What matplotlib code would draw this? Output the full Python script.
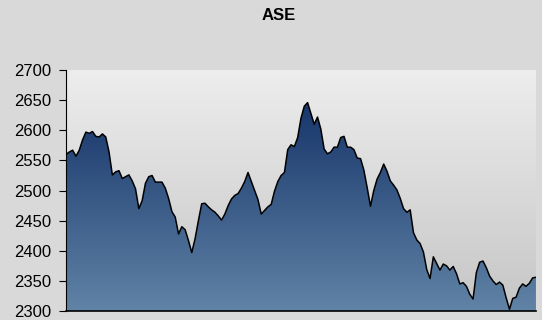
import numpy as np
import matplotlib
matplotlib.use('Agg')
import matplotlib.pyplot as plt
from matplotlib.colors import LinearSegmentedColormap

title = 'ASE'
y_ticks = [2300, 2350, 2400, 2450, 2500, 2550, 2600, 2650, 2700]

# index values, one per trading day
ase = [2560, 2564, 2567, 2557, 2567, 2584, 2597, 2595, 2598, 2590,
       2589, 2594, 2589, 2564, 2526, 2531, 2533, 2520, 2523, 2526,
       2516, 2503, 2470, 2483, 2512, 2523, 2525, 2514, 2514, 2514,
       2504, 2487, 2465, 2456, 2428, 2440, 2435, 2417, 2397, 2420,
       2450, 2478, 2479, 2473, 2468, 2464, 2458, 2451, 2461, 2475,
       2486, 2492, 2495, 2504, 2515, 2530, 2515, 2500, 2485, 2461,
       2467, 2473, 2477, 2499, 2515, 2525, 2530, 2568, 2576, 2573,
       2588, 2620, 2640, 2646, 2628, 2610, 2622, 2602, 2569, 2561,
       2564, 2572, 2572, 2588, 2590, 2572, 2572, 2568, 2554, 2553,
       2534, 2505, 2474, 2500, 2519, 2530, 2544, 2532, 2516, 2509,
       2501, 2487, 2470, 2464, 2468, 2430, 2418, 2412, 2398, 2369,
       2354, 2390, 2379, 2368, 2378, 2375, 2368, 2374, 2362, 2345,
       2347, 2341, 2328, 2320, 2364, 2381, 2383, 2372, 2358, 2350,
       2344, 2348, 2343, 2322, 2303, 2321, 2323, 2338, 2345, 2341,
       2346, 2355, 2356]

days = np.arange(len(ase))
ymin, ymax = y_ticks[0], y_ticks[-1]

fig = plt.figure(figsize=(5.42, 3.2), dpi=100, facecolor='#d9d9d9')
ax = fig.add_axes([0.1218, 0.028, 0.867, 0.753])
ax.set_xlim(days[0], days[-1])
ax.set_ylim(ymin, ymax)

# plot-area background gradient
bg = LinearSegmentedColormap.from_list('bg', ['#c6c6c6', '#ededed'])
grad = np.linspace(0, 1, 256).reshape(-1, 1)
ax.imshow(grad, cmap=bg, aspect='auto', origin='lower',
          extent=[days[0], days[-1], ymin, ymax], zorder=0)

# area fill with vertical gradient, clipped to the area polygon
poly = ax.fill_between(days, ase, ymin, facecolor='none', edgecolor='none')
fillmap = LinearSegmentedColormap.from_list('fill', ['#6083a6', '#17356a'])
img = ax.imshow(grad, cmap=fillmap, aspect='auto', origin='lower',
                extent=[days[0], days[-1], ymin, 2650], zorder=1)
img.set_clip_path(poly.get_paths()[0], transform=ax.transData)
ax.set_ylim(ymin, ymax)

ax.plot(days, ase, color='black', lw=1.1, zorder=3)

for s in ['top', 'right']:
    ax.spines[s].set_visible(False)
ax.spines['left'].set_color('black')
ax.spines['bottom'].set_color('black')
ax.spines['bottom'].set_linewidth(1.2)
ax.spines['left'].set_linewidth(0.8)

ax.set_yticks(y_ticks)
ax.set_xticks([])
ax.tick_params(axis='y', length=5, width=0.8, pad=5.5, labelsize=12,
               labelfontfamily='Liberation Sans')

fig.text(0.515, 0.95, title, ha='center', va='center', fontsize=12,
         fontweight='bold', family='Liberation Sans')

fig.savefig('out.png', dpi=100, facecolor=fig.get_facecolor())
